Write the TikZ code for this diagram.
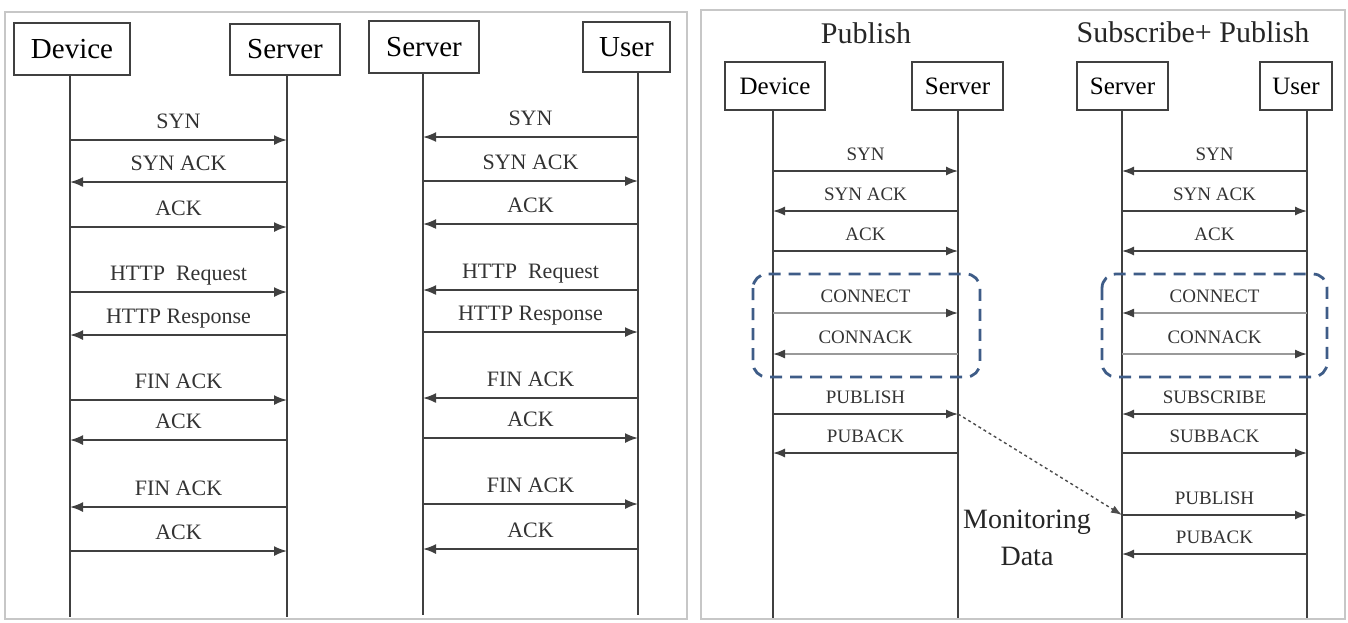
\documentclass[tikz,border=0pt]{standalone}
\usepackage{fontspec}
\setmainfont{Liberation Serif}
\usetikzlibrary{arrows.meta,calc}
\definecolor{grpblue}{RGB}{62,92,135}
\begin{document}
\begin{tikzpicture}[x=1pt,y=-1pt,
  panel/.style={draw=black!22, line width=1.2pt},
  actorL/.style={draw=black!75, line width=1.6pt, inner sep=0pt, font=\fontsize{29}{33}\selectfont},
  actorR/.style={draw=black!75, line width=1.4pt, inner sep=0pt, font=\fontsize{25}{29}\selectfont},
  life/.style={draw=black!75, line width=1.6pt},
  msgL/.style={draw=black!75, line width=1.8pt, -{Latex[length=13pt,width=10pt]}},
  msgR/.style={draw=black!75, line width=1.4pt, -{Latex[length=12pt,width=9pt]}},
  msgG/.style={draw=black!40, line width=1.6pt, -{Latex[length=12pt,width=9pt,color=black!75]}},
  lblL/.style={anchor=base, yshift=12pt, inner sep=0pt, text=black!80, font=\fontsize{22}{24}\selectfont},
  lblR/.style={anchor=base, yshift=11pt, inner sep=0pt, text=black!80, font=\fontsize{19}{21}\selectfont},
  ttl/.style={anchor=base, inner sep=0pt, text=black!85, font=\fontsize{30}{34}\selectfont},
  dashbox/.style={draw=grpblue, line width=2.8pt, dash pattern=on 12pt off 8pt, rounded corners=14pt},
  mon/.style={draw=black!70, line width=1.4pt, dashed, -{Latex[length=11pt,width=8pt]}}
]
\useasboundingbox (0,0) rectangle (1348,622);
% panels
\draw[panel] (5,12) rectangle (687,619);
\draw[panel] (701,10) rectangle (1345,619);

% left panel actors
\node[actorL, minimum width=116pt, minimum height=52pt] (dev1) at (72,49) {Device};
\node[actorL, minimum width=110pt, minimum height=51pt] (srv1) at (285,49.5) {Server};
\node[actorL, minimum width=110pt, minimum height=52pt] (srv2) at (424,47) {Server};
\node[actorL, minimum width=87pt, minimum height=50pt] (usr1) at (626.5,47) {User};

\coordinate (d1) at (70,75);  \coordinate (d1b) at (70,617);
\coordinate (s1) at (287,75); \coordinate (s1b) at (287,617);
\coordinate (s2) at (423,73); \coordinate (s2b) at (423,615);
\coordinate (u1) at (638,72); \coordinate (u1b) at (638,615);
\foreach \t/\b in {d1/d1b,s1/s1b,s2/s2b,u1/u1b} \draw[life] (\t) -- (\b);

\foreach \y/\a/\b/\t in {140/d1/s1/SYN, 182/s1/d1/SYN ACK, 227/d1/s1/ACK,
  292/d1/s1/{HTTP\enspace Request}, 335/s1/d1/HTTP Response, 400/d1/s1/FIN ACK,
  440/s1/d1/ACK, 507/s1/d1/FIN ACK, 551/d1/s1/ACK}
  \draw[msgL] (\a |- 0,\y) -- node[lblL]{\t} (\b |- 0,\y);

\foreach \y/\a/\b/\t in {137/u1/s2/SYN, 181/s2/u1/SYN ACK, 224/u1/s2/ACK,
  290/u1/s2/{HTTP\enspace Request}, 332/s2/u1/HTTP Response, 398/u1/s2/FIN ACK,
  438/s2/u1/ACK, 504/s2/u1/FIN ACK, 549/u1/s2/ACK}
  \draw[msgL] (\a |- 0,\y) -- node[lblL]{\t} (\b |- 0,\y);

% right panel
\node[ttl] (t1) at (866,43) {Publish};
\node[ttl] (t2) at (1193,42) {Subscribe+ Publish};

\node[actorR, minimum width=100pt, minimum height=48pt] (dev2) at (775,86) {Device};
\node[actorR, minimum width=91pt, minimum height=48pt] (srv3) at (957.5,86) {Server};
\node[actorR, minimum width=91pt, minimum height=48pt] (srv4) at (1122.5,86) {Server};
\node[actorR, minimum width=72pt, minimum height=48pt] (usr2) at (1296,86) {User};

\coordinate (d2) at (773,110);  \coordinate (d2b) at (773,618);
\coordinate (s3) at (958,110);  \coordinate (s3b) at (958,618);
\coordinate (s4) at (1122,110); \coordinate (s4b) at (1122,618);
\coordinate (u2) at (1307,110); \coordinate (u2b) at (1307,618);
\foreach \t/\b in {d2/d2b,s3/s3b,s4/s4b,u2/u2b} \draw[life, line width=1.4pt] (\t) -- (\b);

\foreach \y/\a/\b/\t in {171/d2/s3/SYN, 211/s3/d2/SYN ACK, 251/d2/s3/ACK,
  414/d2/s3/PUBLISH, 453/s3/d2/PUBACK}
  \draw[msgR] (\a |- 0,\y) -- node[lblR]{\t} (\b |- 0,\y);
\foreach \y/\a/\b/\t in {313/d2/s3/CONNECT, 354/s3/d2/CONNACK}
  \draw[msgG] (\a |- 0,\y) -- node[lblR]{\t} (\b |- 0,\y);

\foreach \y/\a/\b/\t in {171/u2/s4/SYN, 211/s4/u2/SYN ACK, 251/u2/s4/ACK,
  414/u2/s4/SUBSCRIBE, 453/s4/u2/SUBBACK, 515/s4/u2/PUBLISH, 554/u2/s4/PUBACK}
  \draw[msgR] (\a |- 0,\y) -- node[lblR]{\t} (\b |- 0,\y);
\foreach \y/\a/\b/\t in {313/u2/s4/CONNECT, 354/s4/u2/CONNACK}
  \draw[msgG] (\a |- 0,\y) -- node[lblR]{\t} (\b |- 0,\y);

% dashed groups
\draw[dashbox] (753,274) rectangle (980,377);
\draw[dashbox] (1102,274) rectangle (1327,377);

% monitoring data
\coordinate (pubS) at (958,414);
\coordinate (pubU) at (1122,515);
\draw[mon] (pubS) -- (pubU);
\node[align=center, inner sep=0pt, text=black!85, font=\fontsize{28}{37}\selectfont, anchor=base] (md) at (1027,565) {Monitoring\\Data};
\end{tikzpicture}
\end{document}
